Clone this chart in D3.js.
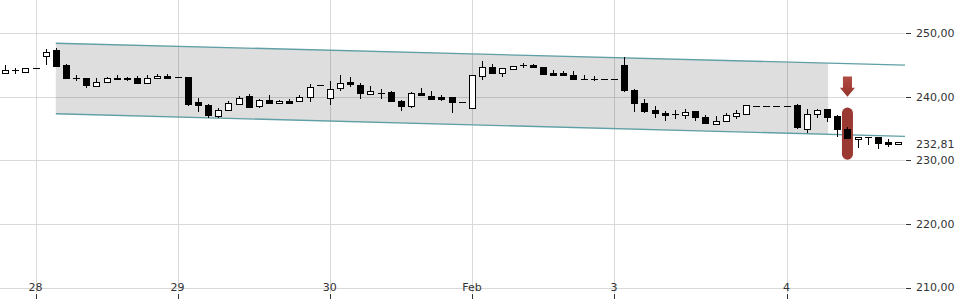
<!DOCTYPE html>
<html>
<head>
<meta charset="utf-8">
<script src="https://cdn.jsdelivr.net/npm/d3@7"></script>
<style>
  body { margin: 0; background: #fff; }
  #chart { width: 960px; height: 300px; }
  text { font-family: "DejaVu Sans", sans-serif; font-size: 11px; fill: #333; }
</style>
</head>
<body>
<div id="chart"></div>
<script>
// candle values (one per bar)
const opens = [243.8, 244.15, 243.96, 244.58, 246.36, 247.3, 244.95, 243.01, 243.01, 241.7,
  242.39, 243.01, 243.01, 243.01, 242.23, 242.9, 243.27, 243.1, 243.1, 239.14,
  238.67, 237.05, 237.88, 238.93, 240.08, 238.62, 239.56, 239.09, 239.4, 239.29,
  239.97, 241.8, 239.87, 241.44, 242.32, 241.92, 240.5, 240.66, 240.71, 239.34,
  238.51, 240.6, 240.19, 239.92, 239.92, 239.25, 238.3, 243.27, 244.68, 243.8,
  244.43, 244.95, 244.95, 244.68, 243.74, 243.74, 243.48, 242.86, 242.86, 242.86,
  242.86, 244.95, 241.02, 239.09, 237.88, 237.52, 237.25, 237.2, 237.72, 236.83,
  235.79, 236.15, 236.94, 237.36, 238.6, 238.6, 238.6, 238.6, 238.67, 234.9,
  237.36, 238.04, 236.94, 234.9, 233.33, 233.69, 233.69, 232.81, 232.5];
const highs = [244.95, 244.5, 244.58, 244.58, 247.57, 247.72, 245.1, 243.42, 243.01, 243.01,
  243.1, 243.38, 243.1, 243.2, 243.37, 243.53, 243.64, 243.1, 243.1, 239.87,
  238.93, 238.3, 239.34, 240.08, 240.5, 239.72, 240.24, 239.5, 239.6, 240.24,
  241.96, 241.8, 242.43, 243.38, 243.11, 242.17, 241.65, 241.29, 240.86, 239.56,
  240.71, 241.38, 240.86, 240.24, 240.0, 239.25, 243.38, 245.57, 245.21, 244.52,
  244.84, 245.3, 245.21, 244.68, 244.16, 244.0, 244.0, 243.48, 243.2, 242.86,
  242.86, 246.25, 241.29, 239.6, 238.51, 237.72, 237.88, 238.15, 237.8, 237.1,
  236.94, 237.46, 237.88, 238.78, 238.6, 238.6, 238.6, 238.6, 238.82, 238.15,
  238.15, 238.15, 237.1, 235.26, 233.69, 233.69, 233.69, 233.28, 232.81];
const lows = [243.8, 243.8, 243.96, 244.58, 245.21, 244.9, 243.01, 242.59, 241.54, 241.7,
  242.39, 242.8, 242.7, 242.17, 242.23, 242.9, 243.01, 243.1, 238.67, 237.77,
  236.83, 236.83, 237.88, 238.93, 238.4, 238.4, 239.09, 239.09, 239.09, 239.29,
  239.34, 241.8, 238.93, 241.13, 241.65, 239.81, 240.5, 239.81, 239.34, 237.88,
  238.4, 240.35, 239.65, 239.45, 237.61, 239.25, 238.3, 242.75, 243.8, 243.27,
  244.43, 244.68, 244.68, 243.64, 243.48, 243.48, 242.86, 242.86, 242.6, 242.86,
  242.86, 240.86, 237.72, 237.61, 236.83, 236.42, 236.67, 236.67, 236.42, 235.85,
  235.79, 236.15, 236.67, 237.36, 238.6, 238.6, 238.6, 238.6, 235.1, 234.47,
  236.83, 236.15, 233.85, 233.44, 232.12, 232.65, 231.96, 232.28, 232.5];
const closes = [244.15, 244.15, 244.58, 244.58, 247.03, 244.9, 243.01, 243.01, 241.92, 242.32,
  243.01, 242.8, 242.8, 242.17, 242.95, 243.27, 243.01, 243.1, 238.82, 238.78,
  237.2, 237.99, 239.03, 239.87, 238.4, 239.56, 239.09, 239.4, 239.09, 239.97,
  241.54, 241.8, 241.29, 242.23, 241.96, 240.6, 240.86, 240.66, 239.34, 238.51,
  240.55, 240.35, 239.65, 239.65, 239.18, 239.25, 243.38, 244.68, 243.8, 244.52,
  244.84, 244.95, 244.68, 243.64, 243.48, 243.48, 242.86, 242.86, 242.86, 242.86,
  242.86, 241.02, 239.03, 237.77, 237.46, 237.2, 237.25, 237.61, 236.83, 235.95,
  236.15, 237.1, 237.46, 238.78, 238.6, 238.6, 238.6, 238.6, 235.26, 237.36,
  237.99, 236.83, 235.0, 233.44, 233.69, 233.69, 232.75, 232.5, 232.81];

// x axis: bar index where each day label sits
const dayLabels = ["28", "29", "30", "Feb", "3", "4"];
const dayIndex = [3, 17, 32, 46, 60, 77];

// y axis ticks
const priceTicks = [210, 220, 230, 240, 250];
const lastPrice = closes[closes.length - 1];

// trend channel: [bar index, price] at start and end, fill ends earlier
const channelIndex = [5, 88.67];
const channelTop = [248.43, 244.98];
const channelBottom = [237.33, 233.77];
const channelFillEnd = 81.1;

// signal marker
const signalIndex = 83;
const signalBand = [230.1, 238.3];
const signalArrow = [243.2, 240.0];

const W = 960, H = 300, plotRight = 905;

const fmt = v => d3.format(".2f")(v).replace(".", ",");

const x = d3.scaleLinear().domain([-0.5, 88.67]).range([0, plotRight]);
const y = d3.scaleLinear().domain([210, 250]).range([287.5, 33.2]);

const svg = d3.select("#chart").append("svg")
  .attr("width", W).attr("height", H);

// gridlines
svg.append("g").selectAll("line").data(priceTicks).join("line")
  .attr("x1", 0).attr("x2", plotRight)
  .attr("y1", d => Math.round(y(d)) + 0.5).attr("y2", d => Math.round(y(d)) + 0.5)
  .attr("stroke", "#d9d9d9");
svg.append("g").selectAll("line").data(dayIndex).join("line")
  .attr("x1", d => Math.round(x(d)) + 0.5).attr("x2", d => Math.round(x(d)) + 0.5)
  .attr("y1", 0).attr("y2", 293)
  .attr("stroke", "#d9d9d9");

// channel fill
const lerp = (a, b, t) => a + (b - a) * t;
const tEnd = (channelFillEnd - channelIndex[0]) / (channelIndex[1] - channelIndex[0]);
const fillPts = [
  [channelIndex[0], channelTop[0]],
  [channelFillEnd, lerp(channelTop[0], channelTop[1], tEnd)],
  [channelFillEnd, lerp(channelBottom[0], channelBottom[1], tEnd)],
  [channelIndex[0], channelBottom[0]]
];
svg.append("path")
  .attr("d", d3.line().x(d => x(d[0])).y(d => y(d[1]))(fillPts) + "Z")
  .attr("fill", "#000").attr("fill-opacity", 0.13);

// channel lines
[channelTop, channelBottom].forEach(c => {
  svg.append("line")
    .attr("x1", x(channelIndex[0])).attr("x2", x(channelIndex[1]))
    .attr("y1", y(c[0])).attr("y2", y(c[1]))
    .attr("stroke", "#5f9fa5").attr("stroke-width", 1.4);
});

// signal marker
const defs = svg.append("defs");
const grad = defs.append("linearGradient").attr("id", "arrowGrad")
  .attr("x1", 0).attr("y1", 0).attr("x2", 0).attr("y2", 1);
grad.append("stop").attr("offset", "0%").attr("stop-color", "#b24c44");
grad.append("stop").attr("offset", "100%").attr("stop-color", "#943229");

const sx = x(signalIndex);
svg.append("rect")
  .attr("x", sx - 5.5).attr("width", 11)
  .attr("y", y(signalBand[1])).attr("height", y(signalBand[0]) - y(signalBand[1]))
  .attr("rx", 5.5)
  .attr("fill", "#9a3931");

const aTop = y(signalArrow[0]), aBot = y(signalArrow[1]);
const aNeck = aBot - 9;
svg.append("path")
  .attr("d", `M${sx - 4.5},${aTop}H${sx + 4.5}V${aNeck}H${sx + 7.5}L${sx},${aBot}L${sx - 7.5},${aNeck}H${sx - 4.5}Z`)
  .attr("fill", "url(#arrowGrad)");

// candles
const candles = opens.map((o, i) => ({ i, o, h: highs[i], l: lows[i], c: closes[i] }));
const g = svg.append("g").attr("shape-rendering", "crispEdges");
candles.forEach(d => {
  const x0 = Math.round(x(d.i)) - 3;
  const cx = x0 + 3.5;
  const yH = y(d.h), yL = y(d.l);
  if (yL - yH > 0.5) {
    g.append("line").attr("x1", cx).attr("x2", cx)
      .attr("y1", Math.round(yH)).attr("y2", Math.round(yL) + 1)
      .attr("stroke", "#000");
  }
  const top = Math.round(y(Math.max(d.o, d.c)));
  const bot = Math.round(y(Math.min(d.o, d.c)));
  if (bot - top < 1) {
    g.append("line").attr("x1", x0).attr("x2", x0 + 7)
      .attr("y1", top + 0.5).attr("y2", top + 0.5)
      .attr("stroke", "#000");
  } else {
    g.append("rect")
      .attr("x", x0 + 0.5).attr("width", 6)
      .attr("y", top + 0.5).attr("height", bot - top)
      .attr("fill", d.c >= d.o ? "#fff" : "#000")
      .attr("stroke", "#000");
  }
});

// y axis
const ya = svg.append("g");
ya.selectAll("line").data(priceTicks).join("line")
  .attr("x1", 906).attr("x2", 911)
  .attr("y1", d => Math.round(y(d)) + 0.5).attr("y2", d => Math.round(y(d)) + 0.5)
  .attr("stroke", "#333");
ya.selectAll("text").data(priceTicks).join("text")
  .attr("x", 916).attr("y", d => y(d)).attr("dy", "0.35em")
  .text(fmt);
svg.append("text")
  .attr("x", 916).attr("y", y(lastPrice) + 2).attr("dy", "0.35em")
  .text(fmt(lastPrice));

// x axis
const xa = svg.append("g");
xa.selectAll("line").data(dayIndex).join("line")
  .attr("x1", d => Math.round(x(d)) + 0.5).attr("x2", d => Math.round(x(d)) + 0.5)
  .attr("y1", 294).attr("y2", 299)
  .attr("stroke", "#333");
xa.selectAll("text").data(dayIndex).join("text")
  .attr("x", d => x(d)).attr("y", 291)
  .attr("text-anchor", "middle")
  .text((d, i) => dayLabels[i]);
</script>
</body>
</html>
